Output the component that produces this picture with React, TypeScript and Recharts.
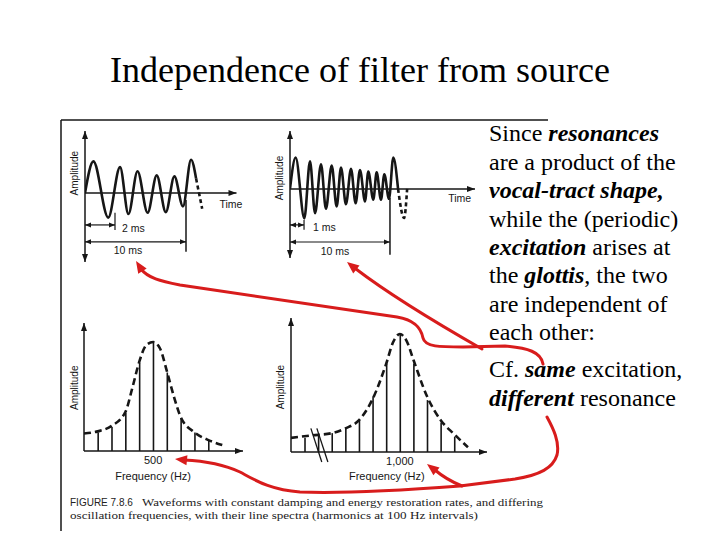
import React from "react";
import {
  LineChart,
  ComposedChart,
  Line,
  Bar,
  XAxis,
  YAxis,
  ReferenceLine,
  ReferenceDot,
} from "recharts";

const INK = "#161616";
const RED = "#d81c1c";
const SANS = "'Liberation Sans', Arial, sans-serif";
const SERIF = "'Liberation Serif'";

// top left waveform (2 ms period): peaks / troughs, ms vs relative amplitude
const wave1Time = [0, 0.83, 2.3, 3.47, 4.3, 5.2, 6.2, 7.1, 8.0, 8.85, 9.7, 10.5, 11.0];
const wave1Amp = [0, 0.99, -0.77, 0.81, -0.66, 0.68, -0.62, 0.55, -0.6, 0.52, -0.42, 1.04, 0.45];
const wave1TailTime = [11.0, 11.6];
const wave1TailAmp = [0.45, -0.49];

// top right waveform (1 ms period)
const wave2Time = [
  0, 0.56, 1.42, 1.98, 2.48, 3.07, 3.56, 4.13, 4.62, 5.05, 5.54, 6.04, 6.5, 6.93, 7.43,
  7.75, 8.25, 8.58, 9.01, 9.34, 9.8, 10.23, 10.7,
];
const wave2Amp = [
  0, 0.98, -0.92, 0.86, -0.76, 0.77, -0.62, 0.73, -0.55, 0.67, -0.48, 0.63, -0.45, 0.59,
  -0.39, 0.54, -0.34, 0.52, -0.34, 0.46, -0.31, 0.98, 0,
];
const wave2TailTime = [10.7, 11.3, 11.6];
const wave2TailAmp = [0, -0.91, 0];

// bottom left line spectrum (resonance at 500 Hz)
const spec1Freq = [100, 200, 300, 400, 500, 600, 700, 800, 900];
const spec1Amp = [0.17, 0.22, 0.35, 0.81, 1.0, 0.72, 0.3, 0.17, 0.1];
const env1Freq = [0, 100, 200, 300, 350, 400, 450, 500, 550, 600, 650, 700, 800, 900, 1000];
const env1Amp = [0.16, 0.18, 0.23, 0.36, 0.58, 0.82, 0.97, 1.0, 0.94, 0.73, 0.5, 0.31, 0.17, 0.1, 0.055];
const spec1Ticks = [500];

// bottom right line spectrum (resonance at 1,000 Hz, axis broken near origin)
const spec2Freq = [300, 400, 500, 600, 700, 800, 900, 1000, 1100, 1200, 1300, 1400];
const spec2Amp = [0.12, 0.14, 0.16, 0.2, 0.27, 0.47, 0.75, 1.0, 0.75, 0.44, 0.25, 0.13];
const env2Freq = [200, 350, 500, 600, 700, 800, 900, 950, 1000, 1050, 1100, 1200, 1300, 1400, 1500];
const env2Amp = [0.12, 0.14, 0.16, 0.2, 0.27, 0.45, 0.75, 0.93, 1.0, 0.94, 0.78, 0.47, 0.27, 0.15, 0.04];
const spec2Ticks = [1000];

const toPts = (t: number[], a: number[]) => t.map((v, i) => ({ t: v, a: a[i] }));
const toSpec = (f: number[], a: number[]) => f.map((v, i) => ({ freq: v, amp: a[i] }));

const tri = (dir: string, len = 8, half = 3) => (props: any) => {
  const { cx, cy } = props;
  let d = "";
  if (dir === "up") d = `M${cx},${cy}L${cx - half},${cy + len}L${cx + half},${cy + len}Z`;
  if (dir === "down") d = `M${cx},${cy}L${cx - half},${cy - len}L${cx + half},${cy - len}Z`;
  if (dir === "right") d = `M${cx},${cy}L${cx - len},${cy - half}L${cx - len},${cy + half}Z`;
  if (dir === "left") d = `M${cx},${cy}L${cx + len},${cy - half}L${cx + len},${cy + half}Z`;
  return <path d={d} fill={INK} />;
};

const note =
  (label: string, size = 10.5, anchor = "middle", rotate = 0) =>
  (props: any) => {
    const { cx, cy } = props;
    return (
      <text
        x={cx}
        y={cy}
        textAnchor={anchor}
        dominantBaseline="central"
        fontSize={size}
        fontFamily={SANS}
        fill={INK}
        transform={rotate ? `rotate(${rotate} ${cx} ${cy})` : undefined}
      >
        {label}
      </text>
    );
  };

function WavePanel({ cfg, solid, tail }: any) {
  const seg = (x1: number, y1: number, x2: number, y2: number) => [
    { x: x1, y: y1 },
    { x: x2, y: y2 },
  ];
  return (
    <div style={{ position: "absolute", left: cfg.left, top: cfg.top }}>
      <LineChart width={cfg.width} height={cfg.height} margin={cfg.margin} data={solid}>
        <XAxis type="number" dataKey="t" domain={[0, cfg.tMax]} hide allowDataOverflow />
        <YAxis type="number" domain={[cfg.aMin, cfg.aMax]} hide allowDataOverflow />
        <ReferenceLine x={0} stroke={INK} strokeWidth={1.5} />
        <ReferenceLine y={0} stroke={INK} strokeWidth={1.5} />
        <ReferenceDot x={0} y={cfg.aMax} shape={tri("up")} ifOverflow="visible" />
        <ReferenceDot x={0} y={cfg.aMin} shape={tri("down")} ifOverflow="visible" />
        <ReferenceDot x={cfg.tMax} y={0} shape={tri("right")} ifOverflow="visible" />

        <ReferenceLine segment={seg(0, cfg.shortY, cfg.shortEnd, cfg.shortY)} stroke={INK} strokeWidth={1.2} ifOverflow="visible" />
        <ReferenceLine segment={seg(cfg.shortEnd, cfg.shortTick[0], cfg.shortEnd, cfg.shortTick[1])} stroke={INK} strokeWidth={1.2} ifOverflow="visible" />
        <ReferenceDot x={0} y={cfg.shortY} shape={tri("left", 6, 2.5)} ifOverflow="visible" />
        <ReferenceDot x={cfg.shortEnd} y={cfg.shortY} shape={tri("right", 6, 2.5)} ifOverflow="visible" />

        <ReferenceLine segment={seg(0, cfg.longY, cfg.longEnd, cfg.longY)} stroke={INK} strokeWidth={1.2} ifOverflow="visible" />
        <ReferenceLine segment={seg(cfg.longEnd, cfg.longTick[0], cfg.longEnd, cfg.longTick[1])} stroke={INK} strokeWidth={1.5} ifOverflow="visible" />
        <ReferenceDot x={0} y={cfg.longY} shape={tri("left", 6, 2.5)} ifOverflow="visible" />
        <ReferenceDot x={cfg.longEnd} y={cfg.longY} shape={tri("right", 6, 2.5)} ifOverflow="visible" />

        <ReferenceDot x={cfg.shortLabelAt[0]} y={cfg.shortLabelAt[1]} shape={note(cfg.shortLabel, 10.5, "start")} ifOverflow="visible" />
        <ReferenceDot x={cfg.longLabelAt[0]} y={cfg.longLabelAt[1]} shape={note("10 ms")} ifOverflow="visible" />
        <ReferenceDot x={cfg.timeAt[0]} y={cfg.timeAt[1]} shape={note("Time")} ifOverflow="visible" />
        <ReferenceDot x={cfg.ampAt[0]} y={cfg.ampAt[1]} shape={note("Amplitude", 10, "middle", -90)} ifOverflow="visible" />

        <Line data={solid} dataKey="a" type="monotone" stroke={INK} strokeWidth={2.6} dot={false} isAnimationActive={false} />
        <Line data={tail} dataKey="a" type="monotone" stroke={INK} strokeWidth={2.6} strokeDasharray="4 3" dot={false} isAnimationActive={false} />
      </LineChart>
    </div>
  );
}

function SpectrumPanel({ cfg, lines, envelope, ticks }: any) {
  return (
    <div style={{ position: "absolute", left: cfg.left, top: cfg.top }}>
      <ComposedChart width={cfg.width} height={cfg.height} margin={cfg.margin} data={lines}>
        <XAxis
          type="number"
          dataKey="freq"
          domain={[cfg.fMin, cfg.fMax]}
          allowDataOverflow
          ticks={ticks}
          interval={0}
          tickFormatter={(v: number) => v.toLocaleString("en-US")}
          tickLine={false}
          tickSize={0}
          tickMargin={5}
          height={30}
          axisLine={{ stroke: INK, strokeWidth: 1.5 }}
          tick={{ fill: INK, fontSize: 11, fontFamily: SANS }}
        />
        <YAxis type="number" domain={[0, cfg.aMax]} hide allowDataOverflow />
        <ReferenceLine x={cfg.fMin} stroke={INK} strokeWidth={1.5} />
        <ReferenceDot x={cfg.fMin} y={cfg.aMax} shape={tri("up")} ifOverflow="visible" />
        <ReferenceDot x={cfg.fMax} y={0} shape={tri("right")} ifOverflow="visible" />
        {cfg.breaks &&
          cfg.breaks.map((b: number[], i: number) => (
            <ReferenceLine
              key={i}
              segment={[
                { x: b[0], y: b[1] },
                { x: b[2], y: b[3] },
              ]}
              stroke={INK}
              strokeWidth={1.3}
              ifOverflow="visible"
            />
          ))}
        <ReferenceDot x={cfg.ampAt[0]} y={cfg.ampAt[1]} shape={note("Amplitude", 10, "middle", -90)} ifOverflow="visible" />
        <ReferenceDot x={cfg.freqAt[0]} y={cfg.freqAt[1]} shape={note("Frequency (Hz)", 11)} ifOverflow="visible" />
        <Bar dataKey="amp" barSize={1.6} fill={INK} isAnimationActive={false} />
        <Line data={envelope} dataKey="amp" type="monotone" stroke={INK} strokeWidth={2.6} strokeDasharray="7 4" dot={false} isAnimationActive={false} />
      </ComposedChart>
    </div>
  );
}

const wave1Cfg = {
  left: 60, top: 125, width: 190, height: 145,
  margin: { top: 6, right: 13.5, bottom: 8, left: 25 },
  tMax: 15, aMin: -2.16, aMax: 1.94,
  shortY: -1.0, shortEnd: 2.97, shortTick: [-0.62, -1.16],
  longY: -1.53, longEnd: 10, longTick: [-0.22, -1.84],
  shortLabel: "2 ms", shortLabelAt: [3.66, -1.09], longLabelAt: [4.26, -1.78],
  timeAt: [14.45, -0.34], ampAt: [-1.05, 0.62],
};

const wave2Cfg = {
  left: 265, top: 125, width: 225, height: 140,
  margin: { top: 6, right: 15, bottom: 7, left: 25 },
  tMax: 18.32, aMin: -2.16, aMax: 1.81,
  shortY: -1.125, shortEnd: 1.39, shortTick: [-0.97, -1.28],
  longY: -1.66, longEnd: 9.9, longTick: [-0.28, -2.06],
  shortLabel: "1 ms", shortLabelAt: [2.28, -1.19], longLabelAt: [4.46, -1.94],
  timeAt: [16.8, -0.28], ampAt: [-0.99, 0.34],
};

const spec1Cfg = {
  left: 60, top: 315, width: 200, height: 175,
  margin: { top: 8, right: 17, bottom: 9, left: 24 },
  fMin: 0, fMax: 1150, aMax: 1.174,
  ampAt: [-72, 0.58], freqAt: [500, -0.23],
};

const spec2Cfg = {
  left: 265, top: 310, width: 230, height: 180,
  margin: { top: 8, right: 8, bottom: 8, left: 26 },
  fMin: 200, fMax: 1640, aMax: 1.136,
  ampAt: [125, 0.55], freqAt: [904, -0.2],
  breaks: [
    [346, 0.2, 426, -0.085],
    [390, 0.2, 471, -0.085],
  ],
};

const bodyLines: [string, boolean][][] = [
  [["Since ", false], ["resonances", true]],
  [["are a product of the", false]],
  [["vocal-tract shape,", true]],
  [["while the (periodic)", false]],
  [["excitation", true], [" arises at", false]],
  [["the ", false], ["glottis", true], [", the two", false]],
  [["are independent of", false]],
  [["each other:", false]],
  [["Cf. ", false], ["same", true], [" excitation,", false]],
  [["different", true], [" resonance", false]],
];
const bodyBaselines = [141, 170, 198, 227, 255, 283, 312, 340, 377, 406];

const head = (tx: number, ty: number, fx: number, fy: number, len = 12, half = 5) => {
  const dx = tx - fx;
  const dy = ty - fy;
  const m = Math.hypot(dx, dy);
  const ux = dx / m;
  const uy = dy / m;
  const bx = tx - ux * len;
  const by = ty - uy * len;
  return `${tx},${ty} ${bx - uy * half},${by + ux * half} ${bx + uy * half},${by - ux * half}`;
};

function Overlay() {
  const red = { fill: "none", stroke: RED, strokeWidth: 3, strokeLinecap: "round" as const };
  return (
    <svg width={720} height={540} style={{ position: "absolute", left: 0, top: 0, pointerEvents: "none" }}>
      <text x={360} y={82} textAnchor="middle" fontSize={36} fontFamily={SERIF} fill="#000">
        Independence of filter from source
      </text>

      <line x1={61} y1={120} x2={548} y2={120} stroke={INK} strokeWidth={1.5} />
      <line x1={61} y1={120} x2={61} y2={531} stroke={INK} strokeWidth={1.5} />

      {bodyLines.map((parts, i) => (
        <text key={i} x={489} y={bodyBaselines[i]} fontSize={24} fontFamily={SERIF} fill="#000" style={{ whiteSpace: "pre" }}>
          {parts.map(([s, em], j) => (
            <tspan
              key={j}
              fontFamily={SERIF}
              fontWeight={em ? "bold" : "normal"}
              fontStyle={em ? "italic" : "normal"}
            >
              {s}
            </tspan>
          ))}
        </text>
      ))}

      <text x={70} y={506} fontSize={10} fontFamily={SANS} fill="#222">
        FIGURE 7.8.6
      </text>
      <text x={142} y={506} fontSize={11} fontFamily={SERIF} fill="#222" textLength={401} lengthAdjust="spacingAndGlyphs">
        Waveforms with constant damping and energy restoration rates, and differing
      </text>
      <text x={70} y={519} fontSize={11} fontFamily={SERIF} fill="#222" textLength={408} lengthAdjust="spacingAndGlyphs">
        oscillation frequencies, with their line spectra (harmonics at 100 Hz intervals)
      </text>

      <path {...red} d="M543,364 C541,352 528,348 505,346 L463,347 C440,347 425,347 423,338 C421,328 415,320 397,317 L180,285 C160,281 148,278 141,269" />
      <polygon points={head(136, 261, 143, 272)} fill={RED} />
      <path {...red} d="M482,349 C440,325 390,295 356,269" />
      <polygon points={head(347, 262, 357, 270)} fill={RED} />
      <path {...red} d="M547,417 C553,428 560,442 557,455 C553,468 540,475 515,479 L460,486 C420,489 350,494 300,492 C270,490 255,480 240,472 C225,465 205,461 184,460" />
      <polygon points={head(175, 459, 185, 460)} fill={RED} />
      <path {...red} d="M462,486 C452,482 442,476 435,470" />
      <polygon points={head(427, 464, 436, 471)} fill={RED} />
    </svg>
  );
}

export default function App() {
  return (
    <div style={{ position: "absolute", left: 0, top: 0, width: 720, height: 540, background: "#fff", overflow: "hidden" }}>
      <WavePanel cfg={wave1Cfg} solid={toPts(wave1Time, wave1Amp)} tail={toPts(wave1TailTime, wave1TailAmp)} />
      <WavePanel cfg={wave2Cfg} solid={toPts(wave2Time, wave2Amp)} tail={toPts(wave2TailTime, wave2TailAmp)} />
      <SpectrumPanel cfg={spec1Cfg} lines={toSpec(spec1Freq, spec1Amp)} envelope={toSpec(env1Freq, env1Amp)} ticks={spec1Ticks} />
      <SpectrumPanel cfg={spec2Cfg} lines={toSpec(spec2Freq, spec2Amp)} envelope={toSpec(env2Freq, env2Amp)} ticks={spec2Ticks} />
      <Overlay />
    </div>
  );
}
